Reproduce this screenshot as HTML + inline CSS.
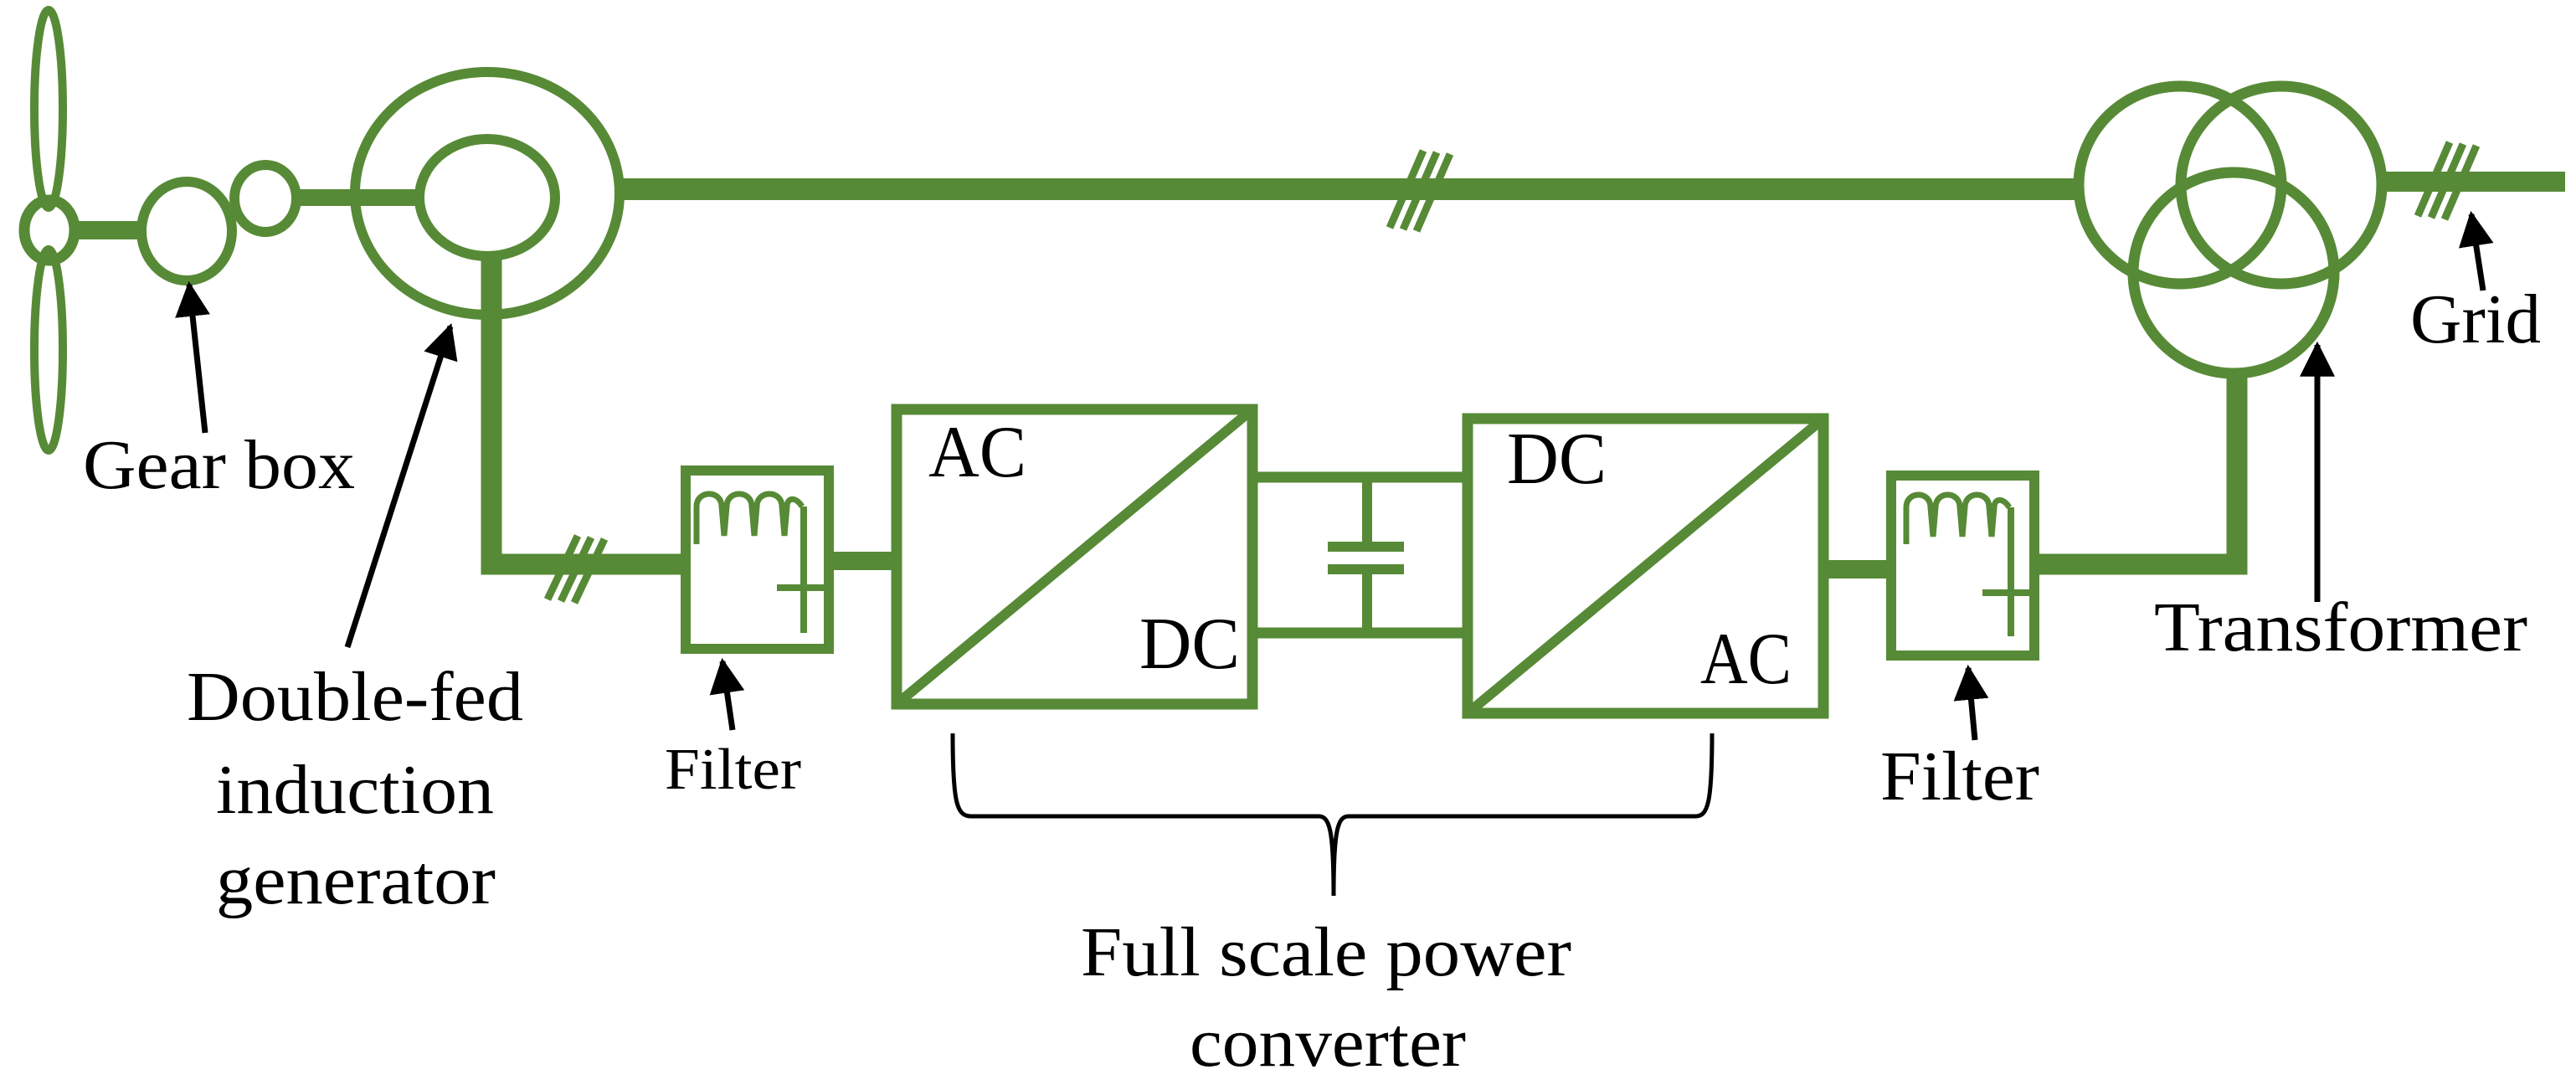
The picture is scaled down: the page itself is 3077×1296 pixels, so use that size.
<!DOCTYPE html>
<html><head><meta charset="utf-8"><style>
html,body{margin:0;padding:0;background:#fff;}
svg{display:block;}
text{font-family:"Liberation Serif",serif;fill:#000;}
</style></head><body>
<svg width="3077" height="1296" viewBox="0 0 3077 1296" xmlns="http://www.w3.org/2000/svg">
<defs>
<marker id="ah" viewBox="0 0 10 10" refX="9" refY="5" markerWidth="6" markerHeight="6" orient="auto" markerUnits="strokeWidth">
<path d="M0,0 L10,5 L0,10 z" fill="#000"/>
</marker>
</defs>
<g fill="none" stroke="#578A36">
<ellipse cx="58" cy="130" rx="17" ry="118" stroke-width="10"/>
<ellipse cx="58" cy="418" rx="17" ry="120" stroke-width="10"/>
<ellipse cx="59" cy="275" rx="30" ry="36" stroke-width="13"/>
<line x1="89" y1="275" x2="169" y2="275" stroke-width="22"/>
<ellipse cx="223" cy="276" rx="54" ry="59" stroke-width="12"/>
<ellipse cx="317" cy="237" rx="37" ry="40" stroke-width="12"/>
<line x1="354" y1="236" x2="501" y2="236" stroke-width="20"/>
<ellipse cx="582" cy="231" rx="158" ry="145" stroke-width="12"/>
<ellipse cx="582" cy="236" rx="81" ry="70" stroke-width="12"/>
<line x1="740" y1="226" x2="2483" y2="226" stroke-width="26"/>
<polyline points="587,306 587,674 813,674" stroke-width="25"/>
<rect x="819" y="562" width="171" height="213" stroke-width="12"/>
<path d="M832,650 L832,605 C832,585 862,585 862,605 L865,640 L868,605 C868,585 898,585 898,605 L901,640 L904,605 C904,585 934,585 934,605 L937,640 L940,605 C940,595 950,592 958,605" stroke-width="7"/>
<line x1="960" y1="605" x2="960" y2="756" stroke-width="8"/>
<line x1="928" y1="702" x2="985" y2="702" stroke-width="8"/>
<line x1="995" y1="670" x2="1065" y2="670" stroke-width="22"/>
<rect x="1071" y="489" width="425" height="352" stroke-width="13"/>
<line x1="1071" y1="841" x2="1496" y2="489" stroke-width="12"/>
<line x1="1502" y1="570" x2="1747" y2="570" stroke-width="13"/>
<line x1="1502" y1="756" x2="1747" y2="756" stroke-width="13"/>
<line x1="1633" y1="570" x2="1633" y2="653" stroke-width="12"/>
<line x1="1633" y1="680" x2="1633" y2="756" stroke-width="12"/>
<line x1="1586" y1="653" x2="1677" y2="653" stroke-width="12"/>
<line x1="1586" y1="680" x2="1677" y2="680" stroke-width="12"/>
<rect x="1753" y="500" width="425" height="352" stroke-width="13"/>
<line x1="1753" y1="852" x2="2178" y2="500" stroke-width="12"/>
<line x1="2184" y1="680" x2="2253" y2="680" stroke-width="22"/>
<rect x="2259" y="568" width="171" height="215" stroke-width="12"/>
<path d="M2277,650 L2277,606 C2277,586 2306,586 2306,606 L2309,641 L2312,606 C2312,586 2341,586 2341,606 L2344,641 L2347,606 C2347,586 2376,586 2376,606 L2379,641 L2382,606 C2382,596 2392,593 2400,606" stroke-width="7"/>
<line x1="2402" y1="606" x2="2402" y2="760" stroke-width="8"/>
<line x1="2368" y1="708" x2="2424" y2="708" stroke-width="8"/>
<polyline points="2436,674 2672,674 2672,446" stroke-width="25"/>
<ellipse cx="2604" cy="221" rx="121" ry="118" stroke-width="13"/>
<ellipse cx="2725" cy="221" rx="120" ry="118" stroke-width="13"/>
<ellipse cx="2668" cy="326" rx="120" ry="120" stroke-width="13"/>
<line x1="2845" y1="217" x2="3064" y2="217" stroke-width="24"/>
<g stroke-width="9">
<line x1="1660" y1="272" x2="1700" y2="180"/><line x1="1676" y1="274" x2="1716" y2="182"/><line x1="1692" y1="276" x2="1732" y2="184"/>
<line x1="654" y1="716" x2="690" y2="640"/><line x1="670" y1="718" x2="706" y2="642"/><line x1="686" y1="720" x2="722" y2="644"/>
<line x1="2888" y1="258" x2="2926" y2="170"/><line x1="2904" y1="260" x2="2942" y2="172"/><line x1="2920" y1="262" x2="2958" y2="174"/>
</g>
</g>
<g stroke="#000" stroke-width="7" fill="none" marker-end="url(#ah)">
<line x1="245" y1="517" x2="226" y2="340"/>
<line x1="415" y1="773" x2="538" y2="390"/>
<line x1="875" y1="872" x2="863" y2="790"/>
<line x1="2359" y1="884" x2="2351" y2="798"/>
<line x1="2768" y1="719" x2="2768" y2="412"/>
<line x1="2966" y1="347" x2="2952" y2="256"/>
</g>
<path d="M1138,876 C1138,960 1143,975 1160,975 L1575,975 C1588,975 1593,990 1593,1070 C1593,990 1598,975 1611,975 L2025,975 C2040,975 2045,960 2045,876" fill="none" stroke="#000" stroke-width="5"/>
<g font-size="84">
<text x="99" y="583" textLength="325" lengthAdjust="spacingAndGlyphs">Gear box</text>
<text x="223" y="860" textLength="402" lengthAdjust="spacingAndGlyphs">Double-fed</text>
<text x="258" y="971" textLength="332" lengthAdjust="spacingAndGlyphs">induction</text>
<text x="258" y="1079" textLength="334" lengthAdjust="spacingAndGlyphs">generator</text>
<text x="794" y="942" font-size="70" textLength="163" lengthAdjust="spacingAndGlyphs">Filter</text>
<text x="1109" y="569" font-size="88" textLength="117" lengthAdjust="spacingAndGlyphs">AC</text>
<text x="1361" y="798" font-size="88" textLength="120" lengthAdjust="spacingAndGlyphs">DC</text>
<text x="1800" y="577" font-size="88" textLength="119" lengthAdjust="spacingAndGlyphs">DC</text>
<text x="2031" y="816" font-size="88" textLength="109" lengthAdjust="spacingAndGlyphs">AC</text>
<text x="2246" y="955" textLength="190" lengthAdjust="spacingAndGlyphs">Filter</text>
<text x="2573" y="777" textLength="446" lengthAdjust="spacingAndGlyphs">Transformer</text>
<text x="2879" y="409" textLength="156" lengthAdjust="spacingAndGlyphs">Grid</text>
<text x="1291" y="1165" textLength="586" lengthAdjust="spacingAndGlyphs">Full scale power</text>
<text x="1421" y="1273" textLength="330" lengthAdjust="spacingAndGlyphs">converter</text>
</g>
</svg>
</body></html>
